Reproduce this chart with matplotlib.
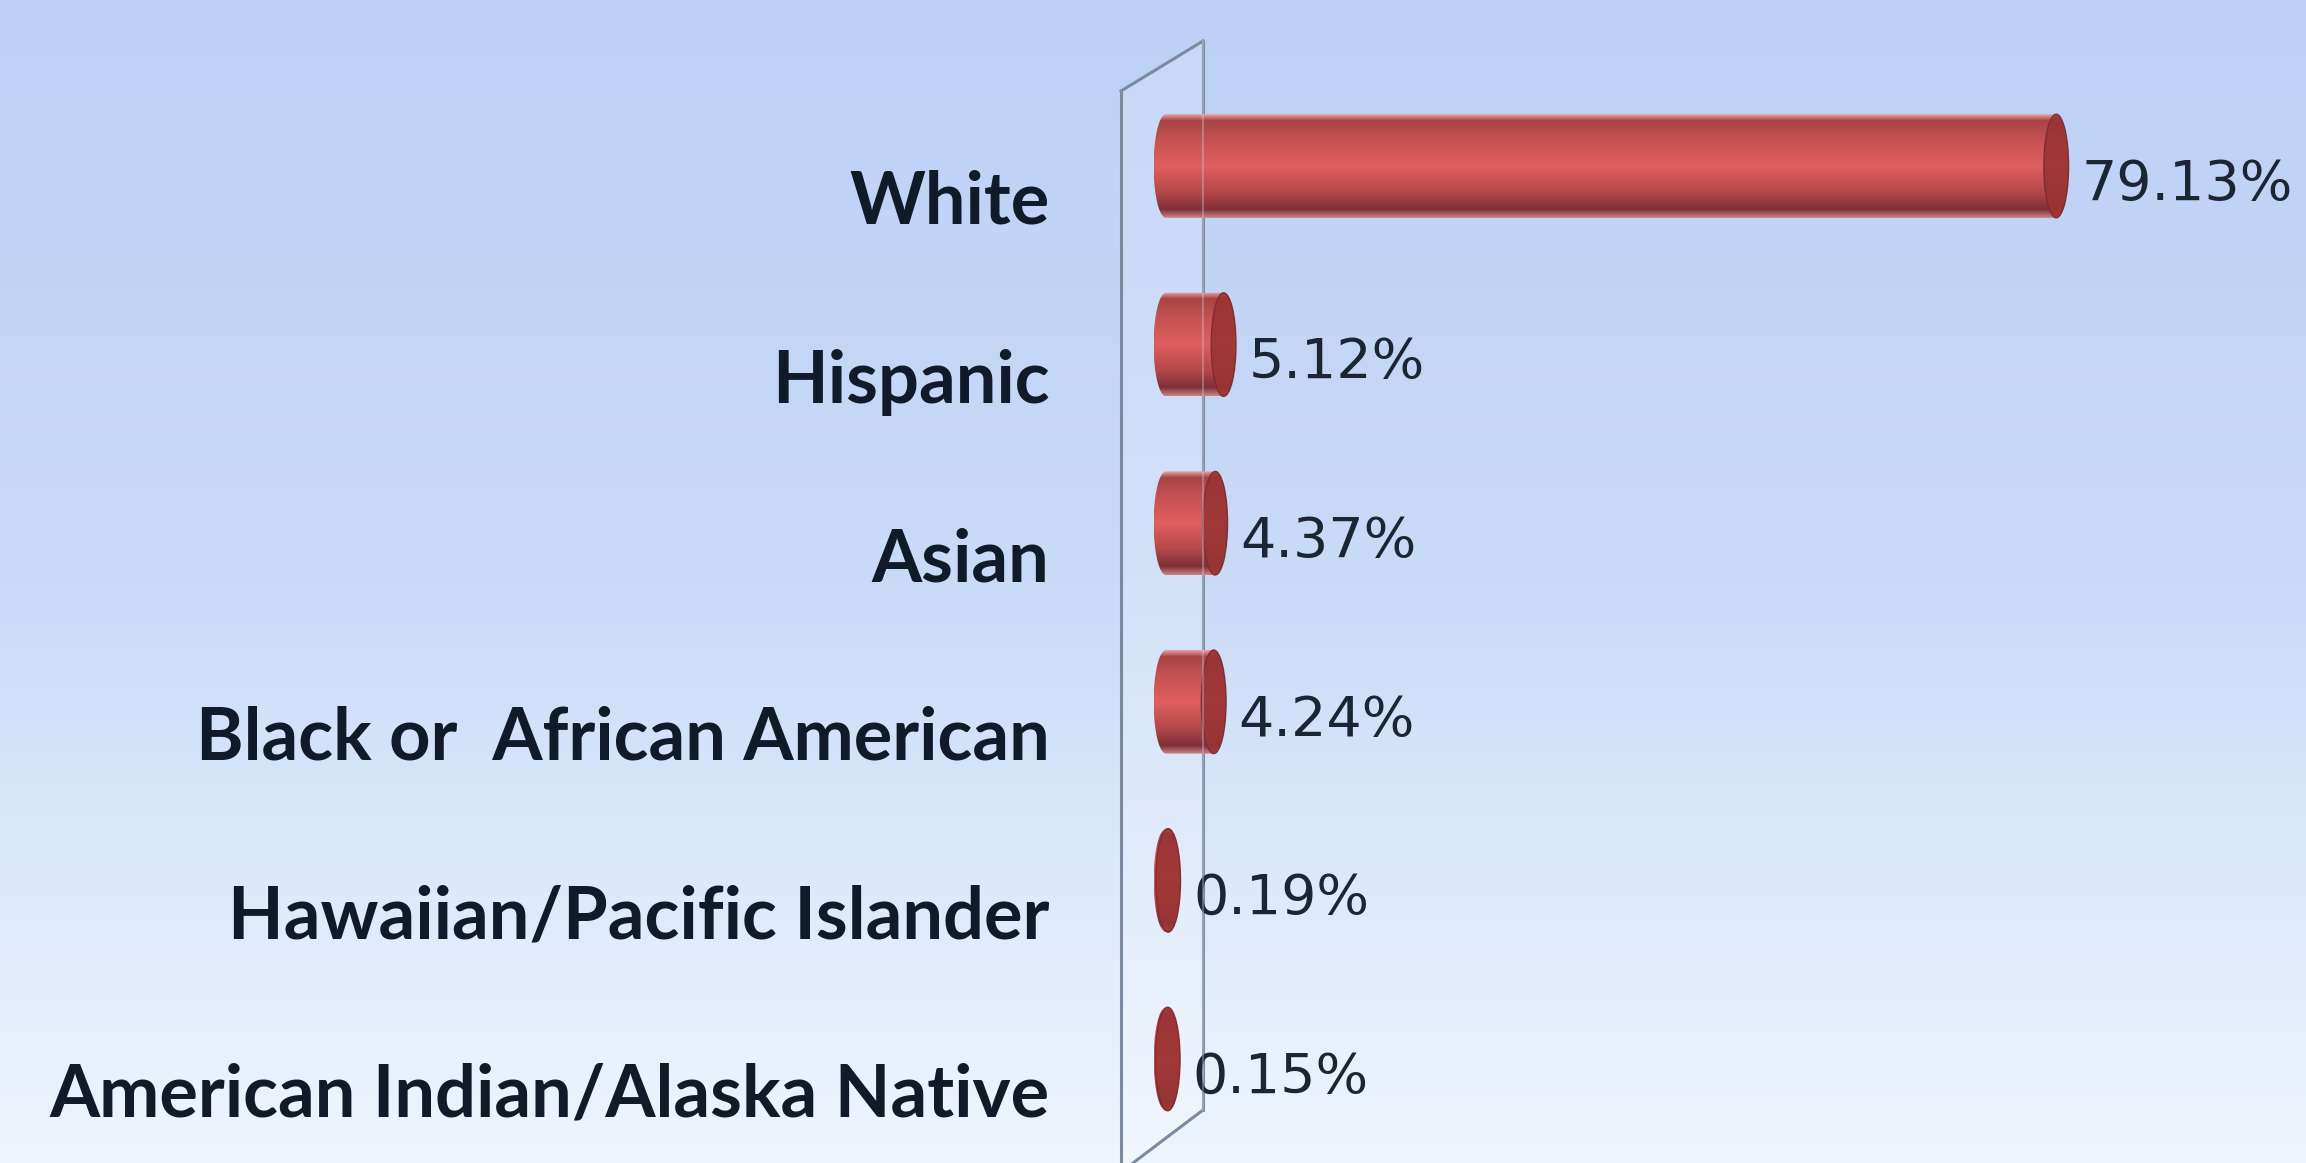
import numpy as np
import matplotlib
matplotlib.use("Agg")
import matplotlib.pyplot as plt
from matplotlib.colors import LinearSegmentedColormap
from matplotlib.path import Path
from matplotlib.patches import PathPatch, Ellipse, Polygon
from matplotlib.lines import Line2D
import matplotlib.transforms as mtransforms

# ---- data ----
categories = ["White", "Hispanic", "Asian", "Black or  African American",
              "Hawaiian/Pacific Islander", "American Indian/Alaska Native"]
values = [79.13, 5.12, 4.37, 4.24, 0.19, 0.15]
value_labels = ["79.13%", "5.12%", "4.37%", "4.24%", "0.19%", "0.15%"]

W, H = 2306, 1163
DPI = 100
fig = plt.figure(figsize=(W / DPI, H / DPI), dpi=DPI)

# background gradient
bg = fig.add_axes([0, 0, 1, 1], zorder=-10)
bg_cmap = LinearSegmentedColormap.from_list("bg", ["#bccff5", "#cadbf8", "#eff5fd"])
grad = np.linspace(0, 1, 256).reshape(-1, 1)
bg.imshow(grad, cmap=bg_cmap, aspect="auto", extent=(0, 1, 1, 0), origin="upper")
bg.set_xlim(0, 1); bg.set_ylim(1, 0)
bg.axis("off")

def fx(px):
    return px / W

def fy(py):
    return 1 - py / H

# wall (side panel) in figure pixel coordinates
wall_pts = [(1121, 91), (1203, 41), (1203, 1110), (1135, 1163), (1121, 1163)]
wall = Polygon([(fx(x), fy(y)) for x, y in wall_pts], closed=True,
               transform=fig.transFigure, facecolor="white", alpha=0.18,
               edgecolor="none", zorder=-5)
fig.patches.append(wall)
wall_color = "#7c8aa0"
for (x0, y0), (x1, y1) in [((1121, 91), (1121, 1163)), ((1121, 91), (1203, 41)),
                           ((1203, 41), (1203, 1110)), ((1203, 1110), (1133, 1163))]:
    fig.lines.append(Line2D([fx(x0), fx(x1)], [fy(y0), fy(y1)],
                            transform=fig.transFigure, color=wall_color, lw=2.2, zorder=-4))

# main axes
ax_left_px = 1080
zero_px = 1166
scale = 11.25  # px per unit
xmin = -(zero_px - ax_left_px) / scale
xmax = (W - zero_px) / scale
ax = fig.add_axes([ax_left_px / W, 0, 1 - ax_left_px / W, 1])
ax.patch.set_alpha(0)
for s in ax.spines.values():
    s.set_visible(False)

row_top_px = 166
row_step = 178.6
n = len(categories)
ypos = np.arange(n)

cyl = LinearSegmentedColormap.from_list(
    "cyl", [(0.0, "#e9a0a0"), (0.06, "#a64444"), (0.25, "#c65252"),
            (0.5, "#df5f5f"), (0.75, "#b54848"), (0.92, "#7e3038"), (1.0, "#c98080")])
bar_h = 0.58
cap_w = 2.2
shade = np.linspace(0, 1, 200).reshape(-1, 1)

for i, v in enumerate(values):
    top = i - bar_h / 2
    bot = i + bar_h / 2
    t = np.linspace(-np.pi / 2, np.pi / 2, 60)
    right = np.column_stack([v + cap_w / 2 * np.cos(t), i + bar_h / 2 * np.sin(t)])
    left = np.column_stack([0 - cap_w / 2 * np.cos(t[::-1]), i + bar_h / 2 * np.sin(t[::-1])])
    verts = np.vstack([right, left, right[:1]])
    codes = [Path.MOVETO] + [Path.LINETO] * (len(verts) - 2) + [Path.CLOSEPOLY]
    shape = PathPatch(Path(verts, codes), facecolor="none", edgecolor="none")
    ax.add_patch(shape)
    im = ax.imshow(shade, cmap=cyl, aspect="auto", origin="lower",
                   extent=(-cap_w / 2, v + cap_w / 2, top, bot), zorder=3)
    im.set_clip_path(shape)
    face = Ellipse((v, i), cap_w, bar_h, facecolor="#9a3434", edgecolor="#7a2a30",
                   lw=1.0, zorder=4, alpha=0.9)
    ax.add_patch(face)
    ax.annotate(value_labels[i], xy=(v, i), xytext=(18, -13.5), textcoords="offset points",
                ha="left", va="center", fontsize=40, color="#1c2533",
                family="DejaVu Sans", zorder=6)

ax.set_xlim(xmin, xmax)
ax.set_ylim((H - row_top_px) / row_step, -row_top_px / row_step)
ax.set_xticks([])
ax.set_yticks(ypos)
ax.set_yticklabels(categories, fontsize=52, fontweight="bold", color="#111a28",
                   family=["Lato", "DejaVu Sans"])
ax.tick_params(axis="y", length=0, pad=22)
offset = mtransforms.ScaledTranslation(0, -31 / DPI, fig.dpi_scale_trans)
for lbl in ax.get_yticklabels():
    lbl.set_transform(lbl.get_transform() + offset)

# faint front line of wall over bars
fig.lines.append(Line2D([fx(1203), fx(1203)], [fy(41), fy(1110)], transform=fig.transFigure,
                        color="#c8d0de", lw=1.5, alpha=0.35, zorder=10))

fig.savefig("out.png", dpi=DPI)
